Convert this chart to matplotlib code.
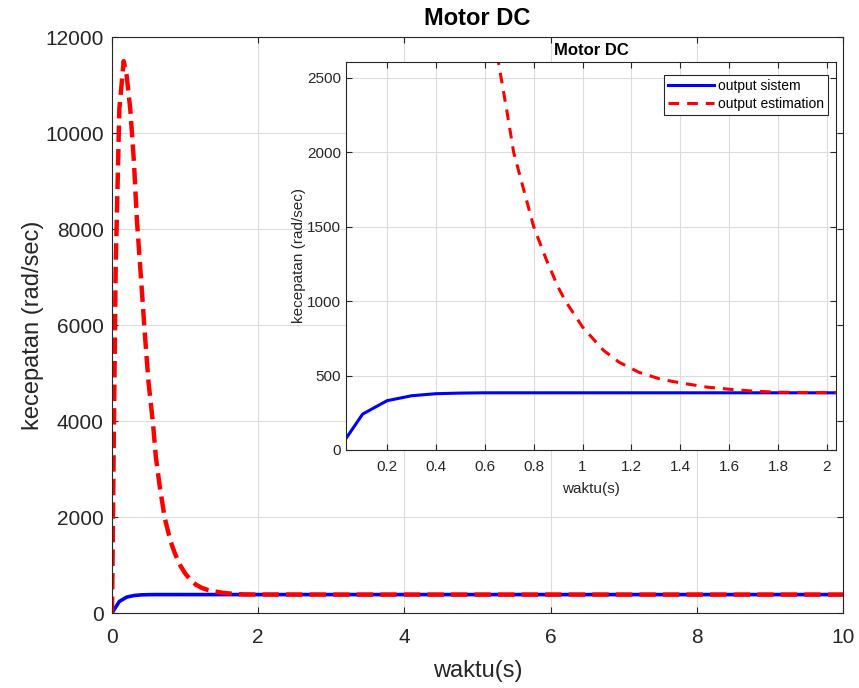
import matplotlib
matplotlib.use("Agg")
import matplotlib.pyplot as plt
import numpy as np

plt.rcParams["font.family"] = ["Liberation Sans", "DejaVu Sans"]

# output sistem (sampled every 0.1 s)
t_sys = [0.0, 0.1, 0.2, 0.3, 0.4, 0.5, 0.6, 0.7, 10.0]
v_sys = [0, 241, 331, 364, 378, 382, 384, 384, 384]

# output estimation
t_est = [0.0, 0.02, 0.05, 0.1, 0.16, 0.2, 0.25, 0.3, 0.34, 0.4, 0.45, 0.5,
         0.56, 0.6, 0.657, 0.69, 0.718, 0.76, 0.8, 0.853, 0.9, 0.93, 1.0,
         1.085, 1.15, 1.23, 1.32, 1.41, 1.51, 1.6, 1.7, 1.8, 1.9, 2.0, 3.0, 10.0]
v_est = [0, 3000, 7200, 10500, 11500, 11200, 10500, 9400, 8200, 6900, 5800, 4800,
         3960, 3250, 2592, 2280, 2000, 1743, 1500, 1273, 1094, 1000, 826,
         670, 589, 522, 475, 448, 422, 408, 395, 388, 386, 385, 384, 384]

axis_col = "#262626"
grid_col = "#dcdcdc"


def style_axes(ax, size):
    for s in ax.spines.values():
        s.set_color(axis_col)
        s.set_linewidth(0.8)
    ax.tick_params(direction="in", top=True, right=True, colors=axis_col,
                   labelsize=size, length=4)
    ax.grid(True, color=grid_col, linewidth=0.8)
    ax.set_axisbelow(True)


fig = plt.figure(figsize=(8.59, 6.88), dpi=100)

# main axes
ax = fig.add_axes([0.1304, 0.109, 0.851, 0.837])
ax.plot(t_sys, v_sys, color="#0000ff", lw=2.6, label="output sistem")
ax.plot(t_est, v_est, color="#ff0000", lw=3.2, ls="--", label="output estimation")
ax.set_xlim(0, 10)
ax.set_ylim(0, 12000)
ax.set_xticks(np.arange(0, 11, 2))
ax.set_yticks(np.arange(0, 12001, 2000))
style_axes(ax, 15)
ax.tick_params(axis="x", pad=11)
ax.tick_params(axis="y", pad=6)
ax.set_xlabel("waktu(s)", fontsize=17, color=axis_col, labelpad=9)
ax.set_ylabel("kecepatan (rad/sec)", fontsize=17, color=axis_col, labelpad=1)
ax.set_title("Motor DC", fontsize=17, fontweight="bold", pad=9)

# inset axes
ins = fig.add_axes([0.4028, 0.346, 0.5704, 0.564])
ins.plot(t_sys, v_sys, color="#0000ff", lw=2.2, label="output sistem")
ins.plot(t_est, v_est, color="#ff0000", lw=2.2, ls=(0, (3.5, 2.6)),
         label="output estimation")
ins.set_xlim(0.032, 2.037)
ins.set_ylim(0, 2607)
ins.set_xticks(np.arange(0.2, 2.01, 0.2))
ins.set_xticklabels(["0.2", "0.4", "0.6", "0.8", "1", "1.2", "1.4", "1.6", "1.8", "2"])
ins.set_yticks(np.arange(0, 2501, 500))
style_axes(ins, 11)
ins.tick_params(axis="x", pad=7)
ins.set_xlabel("waktu(s)", fontsize=11, color=axis_col, labelpad=6)
ins.set_ylabel("kecepatan (rad/sec)", fontsize=11, color=axis_col, labelpad=1)
ins.set_title("Motor DC", fontsize=12, fontweight="bold", pad=5)
leg = ins.legend(loc="upper right", bbox_to_anchor=(1 - 8 / 490, 1 - 13 / 388),
                 fontsize=10, fancybox=False, framealpha=1,
                 edgecolor=axis_col, handlelength=3.3, borderpad=0.3,
                 labelspacing=0.3, handletextpad=0.3, borderaxespad=0)
leg.get_frame().set_linewidth(0.8)

fig.savefig("out.png", dpi=100)
